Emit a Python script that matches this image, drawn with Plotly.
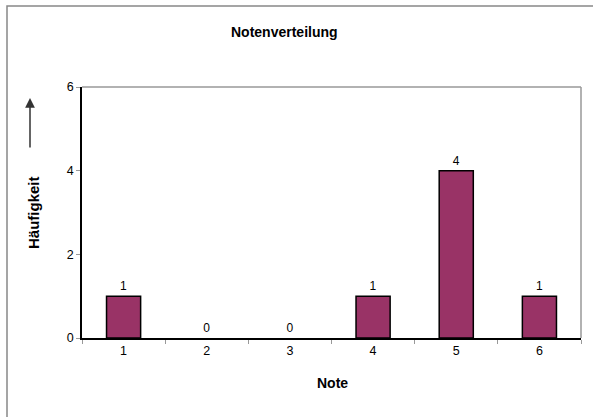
import plotly.graph_objects as go

noten = ["1", "2", "3", "4", "5", "6"]
haeufigkeit = [1, 0, 0, 1, 4, 1]
y_ticks = [0, 2, 4, 6]

W, H = 593, 417
L, R, T, B = 82, 581, 87, 338
pw, ph = R - L, B - T

def px(x):
    return (x - L) / pw

def py(y):
    return (B - y) / ph

lbl_font = dict(family="Liberation Sans, Arial", size=12, color="black")

fig = go.Figure()
fig.add_trace(go.Bar(
    x=noten, y=haeufigkeit,
    marker=dict(color="#993366",
                line=dict(color="black", width=[1.5 if v > 0 else 0 for v in haeufigkeit])),
    text=[str(v) for v in haeufigkeit], textposition="outside",
    textfont=lbl_font, outsidetextfont=lbl_font, insidetextfont=lbl_font,
    cliponaxis=False, width=0.41, hoverinfo="skip",
))

fig.update_layout(
    width=W, height=H,
    margin=dict(l=L, r=W - R, t=T, b=H - B),
    paper_bgcolor="white", plot_bgcolor="white",
    showlegend=False,
    font=dict(family="Liberation Sans, Arial", size=12, color="black"),
    xaxis=dict(type="category", showgrid=False, showline=True, linecolor="black", linewidth=1.5,
               ticks="outside", tickson="boundaries", ticklen=4, tickcolor="#999",
               tickfont=dict(size=12.5), mirror=False, zeroline=False),
    yaxis=dict(range=[0, 6], tickvals=y_ticks, showgrid=False, showline=True, linecolor="black",
               linewidth=1.5, ticks="outside", ticklen=4, tickcolor="#999", tickfont=dict(size=12.5),
               zeroline=False),
    annotations=[
        dict(text="<b>Notenverteilung</b>", xref="paper", yref="paper", x=px(284), y=py(32),
             showarrow=False, font=dict(size=14), xanchor="center", yanchor="middle"),
        dict(text="<b>Note</b>", xref="paper", yref="paper", x=px(332), y=py(383),
             showarrow=False, font=dict(size=14), xanchor="center", yanchor="middle"),
        dict(text="<b>Häufigkeit</b>", xref="paper", yref="paper", x=px(33), y=py(213),
             showarrow=False, font=dict(size=15), textangle=-90, xanchor="center", yanchor="middle"),
        dict(text="", xref="paper", yref="paper", x=px(30), y=py(98), ax=0, ay=51,
             showarrow=True, arrowhead=2, arrowsize=1.3, arrowwidth=1.5, arrowcolor="#333"),
    ],
    shapes=[
        dict(type="rect", xref="paper", yref="paper", x0=px(7), y0=py(430), x1=px(600), y1=py(6),
             line=dict(color="#888", width=1.5), fillcolor="rgba(0,0,0,0)", layer="below"),
        dict(type="line", xref="paper", yref="paper", x0=0, y0=1, x1=1, y1=1,
             line=dict(color="#999", width=1.5)),
        dict(type="line", xref="paper", yref="paper", x0=1, y0=0, x1=1, y1=1,
             line=dict(color="#999", width=1.5)),
    ],
)

fig.write_html("out.html", config={"displayModeBar": False},
               post_script="document.body.style.margin='0';")
